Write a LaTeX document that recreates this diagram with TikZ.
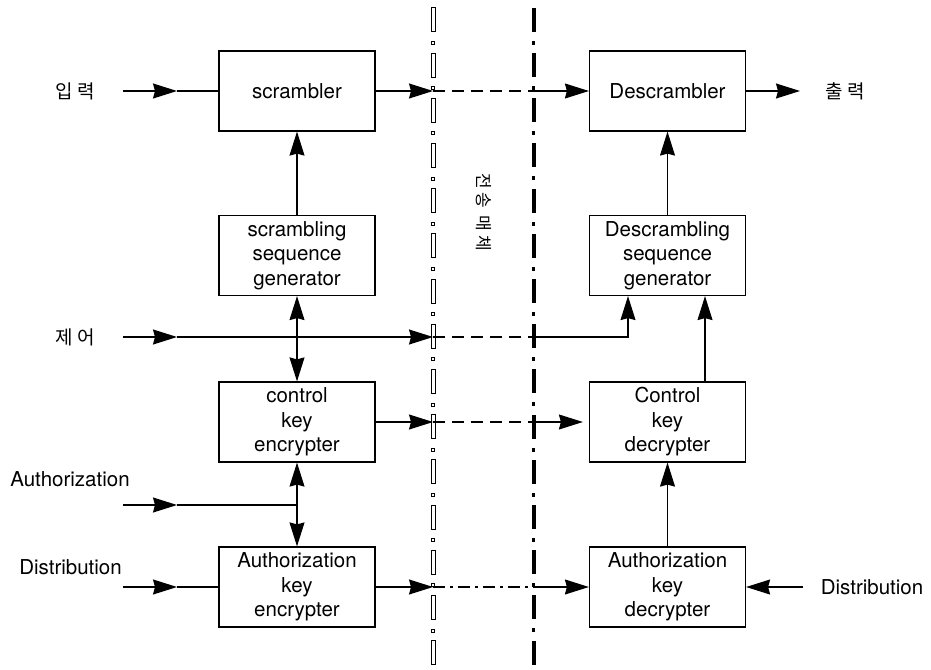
\documentclass[tikz,border=0pt]{standalone}
\usepackage{fontspec}
\setmainfont{TeX Gyre Heros}
\newfontfamily\kr{Noto Sans CJK KR}
\usetikzlibrary{arrows.meta}

\begin{document}
\begin{tikzpicture}[x=1pt, y=-1pt,
    box/.style={draw, line width=1.2pt, minimum width=156pt, minimum height=80pt,
        align=center, inner sep=0pt, font=\fontsize{20.5}{24.5}\selectfont},
    lab/.style={font=\fontsize{20.5}{24.5}\selectfont},
    klab/.style={font=\kr\fontsize{19}{22}\selectfont},
    con/.style={line width=1.2pt},
    arr/.style={con, -{Stealth[length=24pt, width=15pt, inset=2pt]}},
    darr/.style={con, {Stealth[length=24pt, width=15pt, inset=2pt]}-{Stealth[length=24pt, width=15pt, inset=2pt]}},
    dsh/.style={con, dash pattern=on 12pt off 7pt},
    dshdot/.style={con, dash pattern=on 12pt off 5pt on 3pt off 5pt}]
    \useasboundingbox (0,0) rectangle (931,669);

    % transmission medium
    \foreach \k in {-1,...,13} {
        \pgfmathsetmacro{\y}{53+45.2*\k}
        \draw[line width=0.9pt] (431,\y) rectangle (435,\y+24);
        \draw[line width=0.7pt] (431.5,\y+33.5) rectangle (434.5,\y+36.5);
        \fill (531.5,\y) rectangle (536,\y+24);
        \fill (532,\y+33) rectangle (535,\y+37);
    };
    \node[klab, rotate=-90, font=\kr\fontsize{17}{20}\selectfont] (med) at (484,212) {전 송 \ 매 체};

    % blocks
    \node[box] (scr) at (297,91) {scrambler};
    \node[box] (sgen) at (297,255.5) {scrambling\\sequence\\generator};
    \node[box] (cke) at (297,422) {control\\key\\encrypter};
    \node[box] (ake) at (297,587) {Authorization\\key\\encrypter};
    \node[box] (dscr) at (667.5,91) {Descrambler};
    \node[box] (dgen) at (667.5,255.5) {Descrambling\\sequence\\generator};
    \node[box] (ckd) at (667.5,422) {Control\\key\\decrypter};
    \node[box] (akd) at (667.5,587) {Authorization\\key\\decrypter};

    % labels
    \node[klab] (in) at (75,91) {입 력};
    \node[klab] (ctl) at (75,337) {제 어};
    \node[klab] (out) at (845,91) {출 력};
    \node[lab] (auth) at (70,479) {Authorization};
    \node[lab] (dist) at (70.5,567) {Distribution};
    \node[lab] (distr) at (872,587) {Distribution};

    % free ends
    \coordinate (in0) at (123,91);   \coordinate (in1) at (177,91);
    \coordinate (ctl0) at (123,337); \coordinate (ctl1) at (177,337);
    \coordinate (auth0) at (123,505); \coordinate (auth1) at (177,505);
    \coordinate (dist0) at (123,587); \coordinate (dist1) at (177,587);
    \coordinate (distr0) at (803,587);
    \coordinate (out1) at (800,91);
    \foreach \n/\y in {a/91, b/337, c/422, d/587} {
        \coordinate (l\n) at (433,\y);
        \coordinate (r\n) at (534,\y);
    };

    % data path
    \draw[arr] (in0) -- (in1);
    \draw[con] (in1) -- (scr.west);
    \draw[arr] (scr.east) -- (la);
    \draw[dsh] (la) -- (ra);
    \draw[arr] (ra) -- (dscr.west);
    \draw[arr] (dscr.east) -- (out1);
    \draw[arr] (sgen) -- (scr);
    \draw[arr] (dgen) -- (dscr);

    % control
    \draw[arr] (ctl0) -- (ctl1);
    \draw[arr] (ctl1) -- (lb);
    \draw[dsh] (lb) -- (rb);
    \draw[arr] (rb) -| ([xshift=-39.5pt]dgen.south);
    \draw[darr] (sgen) -- (cke);

    \draw[arr] (cke.east) -- (lc);
    \draw[dsh] (lc) -- (rc);
    \draw[arr, shorten >=6pt] (rc) -- (ckd.west);
    \draw[arr] ([xshift=37.5pt]ckd.north) -- ([xshift=37.5pt]dgen.south);

    % authorization
    \draw[arr] (auth0) -- (auth1);
    \draw[con] (auth1) -- (auth1 -| cke.south);
    \draw[darr] (cke) -- (ake);

    \draw[arr] (dist0) -- (dist1);
    \draw[con] (dist1) -- (ake.west);
    \draw[arr] (ake.east) -- (ld);
    \draw[dshdot] (ld) -- (rd);
    \draw[arr] (rd) -- (akd.west);
    \draw[arr] (akd) -- (ckd);
    \draw[arr] (distr0) -- (akd.east);
\end{tikzpicture}
\end{document}
